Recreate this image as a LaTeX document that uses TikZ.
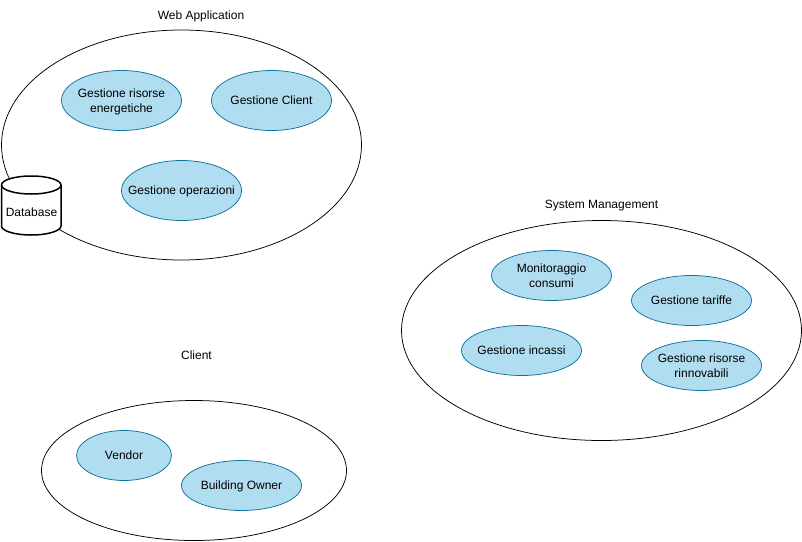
\documentclass[tikz,border=0pt]{standalone}
\usepackage{fontspec}
\setmainfont{Liberation Sans}
\usetikzlibrary{shapes.geometric}
\definecolor{fillblue}{HTML}{B1DDF0}
\definecolor{edgeblue}{HTML}{10739E}
\newcommand{\ucl}[1]{\makebox[0pt][c]{\raisebox{-4pt}[0pt][0pt]{\begin{tabular}{@{}c@{}}#1\end{tabular}}}}
\tikzset{x=1pt,y=-1pt,
 group/.style={ellipse,draw=black,line width=0.75pt,fill=white,inner sep=0,outer sep=0},
 usecase/.style={ellipse,draw=edgeblue,line width=0.75pt,fill=fillblue,inner sep=0,outer sep=0,font=\fontsize{12}{15}\selectfont,text=black},
 title/.style={font=\fontsize{12}{14}\selectfont,text=black,inner sep=0}}
\begin{document}
\begin{tikzpicture}
\useasboundingbox (0,0) rectangle (802,541);
\node[group,minimum width=360pt,minimum height=230pt] (web) at (181.5,145) {};
\node[group,minimum width=400pt,minimum height=220pt] (sys) at (601.5,330.5) {};
\node[group,minimum width=305pt,minimum height=140pt] (cli) at (194,470.5) {};
\node[title] (t1) at (201,16.2) {Web Application};
\node[title] (t2) at (601.5,205.8) {System Management};
\node[title] (t3) at (196.5,355.2) {Client};
\node[usecase,minimum width=120pt,minimum height=60pt] (a) at (121.5,100.5) {\ucl{Gestione risorse\\energetiche}};
\node[usecase,minimum width=120pt,minimum height=60pt] (b) at (271.5,100.5) {\ucl{Gestione Client}};
\node[usecase,minimum width=120pt,minimum height=60pt] (c) at (181.5,190.5) {\ucl{Gestione operazioni}};
\node[usecase,minimum width=120pt,minimum height=50pt] (d) at (551.5,275.5) {\ucl{Monitoraggio\\consumi}};
\node[usecase,minimum width=120pt,minimum height=50pt] (e) at (691.5,300.5) {\ucl{Gestione tariffe}};
\node[usecase,minimum width=120pt,minimum height=50pt] (f) at (521.5,350.5) {\ucl{Gestione incassi}};
\node[usecase,minimum width=120pt,minimum height=50pt] (g) at (701.5,365.5) {\ucl{Gestione risorse\\rinnovabili}};
\node[usecase,minimum width=95pt,minimum height=50pt] (h) at (124,455.5) {\ucl{Vendor}};
\node[usecase,minimum width=120pt,minimum height=50pt] (i) at (241.5,485.5) {\ucl{Building Owner}};
\draw[line width=1.5pt,fill=white] (1.5,185) -- (1.5,226) arc[start angle=180,end angle=360,x radius=29.75pt,y radius=9pt] -- (61,185) arc[start angle=0,end angle=180,x radius=29.75pt,y radius=9pt] -- cycle;
\draw[line width=1.5pt] (1.5,185) arc[start angle=180,end angle=360,x radius=29.75pt,y radius=9pt];
\node[font=\fontsize{12}{14}\selectfont,inner sep=0] (db) at (31.5,212.5) {Database};
\end{tikzpicture}
\end{document}
